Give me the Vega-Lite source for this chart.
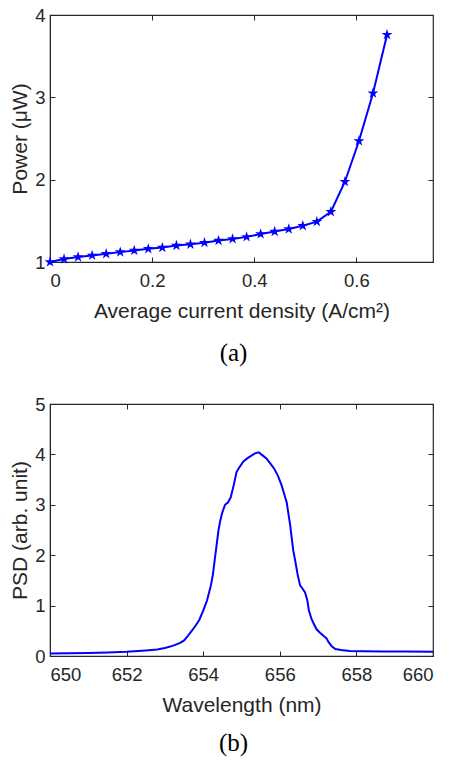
{
  "$schema": "https://vega.github.io/schema/vega-lite/v6.json",
  "padding": {"left": 9, "top": 5, "right": 5, "bottom": 0},
  "background": "white",
  "datasets": {
    "power": [
      {"j": 0.0, "p": 1.0},
      {"j": 0.0275, "p": 1.036},
      {"j": 0.055, "p": 1.06},
      {"j": 0.0825, "p": 1.08},
      {"j": 0.11, "p": 1.1},
      {"j": 0.1375, "p": 1.12},
      {"j": 0.165, "p": 1.14},
      {"j": 0.1925, "p": 1.16},
      {"j": 0.22, "p": 1.175},
      {"j": 0.2475, "p": 1.2},
      {"j": 0.275, "p": 1.215},
      {"j": 0.3025, "p": 1.235},
      {"j": 0.33, "p": 1.26},
      {"j": 0.3575, "p": 1.28},
      {"j": 0.385, "p": 1.305},
      {"j": 0.4125, "p": 1.34},
      {"j": 0.44, "p": 1.37},
      {"j": 0.4675, "p": 1.4},
      {"j": 0.495, "p": 1.44},
      {"j": 0.5225, "p": 1.49},
      {"j": 0.55, "p": 1.61},
      {"j": 0.5775, "p": 1.975},
      {"j": 0.605, "p": 2.47},
      {"j": 0.6325, "p": 3.05},
      {"j": 0.66, "p": 3.76}
    ],
    "psd": [
      {"w": 650.0, "s": 0.05},
      {"w": 650.5, "s": 0.055},
      {"w": 651.0, "s": 0.06},
      {"w": 651.5, "s": 0.07},
      {"w": 652.0, "s": 0.085},
      {"w": 652.5, "s": 0.11},
      {"w": 652.8, "s": 0.13},
      {"w": 653.0, "s": 0.16},
      {"w": 653.2, "s": 0.2},
      {"w": 653.4, "s": 0.26},
      {"w": 653.5, "s": 0.31},
      {"w": 653.6, "s": 0.4},
      {"w": 653.7, "s": 0.5},
      {"w": 653.8, "s": 0.6},
      {"w": 653.9, "s": 0.72},
      {"w": 654.0, "s": 0.9},
      {"w": 654.1, "s": 1.1},
      {"w": 654.2, "s": 1.4},
      {"w": 654.25, "s": 1.6},
      {"w": 654.3, "s": 1.9},
      {"w": 654.35, "s": 2.2},
      {"w": 654.4, "s": 2.5},
      {"w": 654.45, "s": 2.7},
      {"w": 654.5, "s": 2.85},
      {"w": 654.57, "s": 3.0},
      {"w": 654.65, "s": 3.05},
      {"w": 654.72, "s": 3.15},
      {"w": 654.8, "s": 3.4},
      {"w": 654.87, "s": 3.65},
      {"w": 654.95, "s": 3.75},
      {"w": 655.05, "s": 3.86},
      {"w": 655.15, "s": 3.92},
      {"w": 655.27, "s": 3.98},
      {"w": 655.35, "s": 4.02},
      {"w": 655.45, "s": 4.04},
      {"w": 655.55, "s": 3.98},
      {"w": 655.65, "s": 3.92},
      {"w": 655.75, "s": 3.82},
      {"w": 655.85, "s": 3.72},
      {"w": 655.95, "s": 3.58},
      {"w": 656.05, "s": 3.38},
      {"w": 656.12, "s": 3.2},
      {"w": 656.18, "s": 3.05},
      {"w": 656.22, "s": 2.85},
      {"w": 656.27, "s": 2.6},
      {"w": 656.31, "s": 2.35},
      {"w": 656.35, "s": 2.1},
      {"w": 656.4, "s": 1.9},
      {"w": 656.47, "s": 1.6},
      {"w": 656.53, "s": 1.4},
      {"w": 656.6, "s": 1.33},
      {"w": 656.66, "s": 1.26},
      {"w": 656.72, "s": 1.1},
      {"w": 656.76, "s": 0.9},
      {"w": 656.83, "s": 0.73},
      {"w": 656.9, "s": 0.62},
      {"w": 656.96, "s": 0.53},
      {"w": 657.05, "s": 0.46},
      {"w": 657.14, "s": 0.4},
      {"w": 657.22, "s": 0.35},
      {"w": 657.27, "s": 0.28},
      {"w": 657.35, "s": 0.2},
      {"w": 657.45, "s": 0.14},
      {"w": 657.6, "s": 0.12},
      {"w": 657.83, "s": 0.1},
      {"w": 658.2, "s": 0.095},
      {"w": 658.7, "s": 0.09},
      {"w": 659.3, "s": 0.087},
      {"w": 660.0, "s": 0.085}
    ]
  },
  "config": {
    "font": "Liberation Sans",
    "view": {"stroke": "#262626", "strokeWidth": 1.2},
    "axis": {
      "domainColor": "#262626",
      "tickColor": "#262626",
      "labelColor": "#262626",
      "titleColor": "#262626",
      "labelFont": "Liberation Sans",
      "titleFont": "Liberation Sans",
      "labelFontSize": 18.5,
      "titleFontSize": 21,
      "titleFontWeight": "normal",
      "tickSize": -5,
      "labelPadding": 10,
      "grid": false
    },
    "axisX": {"labelPadding": 14, "titlePadding": 11},
    "axisY": {"titlePadding": 4},
    "title": {"font": "Liberation Serif", "fontSize": 25, "fontWeight": "normal", "color": "black", "orient": "bottom", "anchor": "middle", "offset": 19, "dx": -8}
  },
  "spacing": 27,
  "vconcat": [
    {
      "width": 383,
      "height": 247,
      "title": {"text": "(a)"},
      "resolve": {"axis": {"x": "independent", "y": "independent"}},
      "layer": [
        {
          "data": {"name": "power"},
          "mark": {"type": "line", "color": "#0000ff", "strokeWidth": 2},
          "encoding": {
            "x": {"field": "j", "type": "quantitative", "scale": {"domain": [0, 0.75], "nice": false},
                  "axis": {"title": "Average current density (A/cm²)", "values": [0, 0.2, 0.4, 0.6], "format": "~g"}},
            "y": {"field": "p", "type": "quantitative", "scale": {"domain": [1, 4], "nice": false, "zero": false},
                  "axis": {"title": "Power (μW)", "values": [1, 2, 3, 4]}}
          }
        },
        {
          "data": {"name": "power"},
          "mark": {"type": "point", "filled": true, "color": "#0000ff", "opacity": 1, "size": 130,
                   "shape": "M0,-1L0.2245,-0.309L0.951,-0.309L0.363,0.118L0.588,0.809L0,0.382L-0.588,0.809L-0.363,0.118L-0.951,-0.309L-0.2245,-0.309Z"},
          "encoding": {
            "x": {"field": "j", "type": "quantitative", "axis": {"orient": "top", "labels": false, "title": null, "domain": false, "values": [0, 0.2, 0.4, 0.6]}},
            "y": {"field": "p", "type": "quantitative", "axis": {"orient": "right", "labels": false, "title": null, "domain": false, "values": [1, 2, 3, 4]}}
          }
        },
        {
          "mark": {"type": "text", "align": "left", "baseline": "middle", "fontSize": 12.5, "color": "black", "font": "Liberation Sans"},
          "encoding": {
            "x": {"datum": 0.04, "type": "quantitative", "axis": null},
            "y": {"datum": 3.66, "type": "quantitative", "axis": null},
            "text": {"value": "Temp. = 300 k"}
          }
        }
      ]
    },
    {
      "width": 383,
      "height": 252,
      "title": {"text": "(b)", "offset": 15},
      "resolve": {"axis": {"x": "independent", "y": "independent"}},
      "layer": [
        {
          "data": {"name": "psd"},
          "mark": {"type": "line", "color": "#0000ff", "strokeWidth": 2},
          "encoding": {
            "x": {"field": "w", "type": "quantitative", "scale": {"domain": [650, 660], "nice": false, "zero": false},
                  "axis": {"title": "Wavelength (nm)", "values": [650, 652, 654, 656, 658, 660]}},
            "y": {"field": "s", "type": "quantitative", "scale": {"domain": [0, 5], "nice": false},
                  "axis": {"title": "PSD (arb. unit)", "values": [0, 1, 2, 3, 4, 5]}}
          }
        },
        {
          "data": {"name": "psd"},
          "mark": {"type": "line", "opacity": 0},
          "encoding": {
            "x": {"field": "w", "type": "quantitative", "axis": {"orient": "top", "labels": false, "title": null, "domain": false, "values": [650, 652, 654, 656, 658, 660]}},
            "y": {"field": "s", "type": "quantitative", "axis": {"orient": "right", "labels": false, "title": null, "domain": false, "values": [0, 1, 2, 3, 4, 5]}}
          }
        },
        {
          "mark": {"type": "text", "align": "left", "baseline": "middle", "fontSize": 12.5, "color": "black", "font": "Liberation Sans"},
          "encoding": {
            "x": {"datum": 650.7, "type": "quantitative", "axis": null},
            "y": {"datum": 4.29, "type": "quantitative", "axis": null},
            "text": {"value": "0.7 kA/cm²"}
          }
        },
        {
          "mark": {"type": "text", "align": "left", "baseline": "middle", "fontSize": 12.5, "color": "black", "font": "Liberation Sans"},
          "encoding": {
            "x": {"datum": 650.6, "type": "quantitative", "axis": null},
            "y": {"datum": 3.97, "type": "quantitative", "axis": null},
            "text": {"value": "Temp. = 300 k"}
          }
        }
      ]
    }
  ]
}
